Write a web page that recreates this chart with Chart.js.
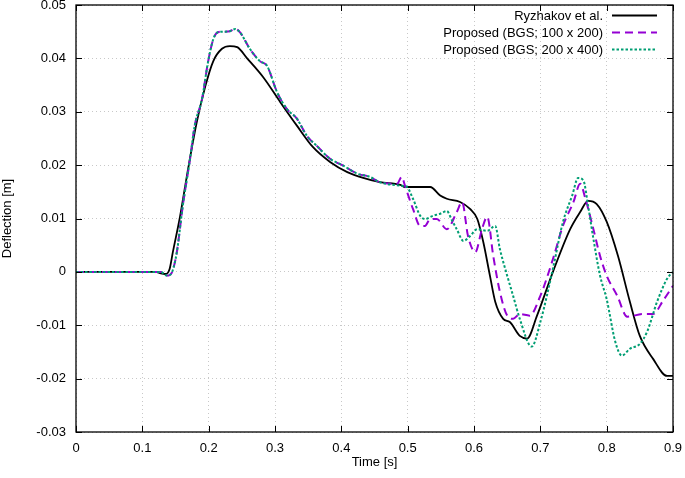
<!DOCTYPE html>
<html>
<head>
<meta charset="utf-8">
<script src="https://cdn.jsdelivr.net/npm/chart.js@4/dist/chart.umd.min.js"></script>
<style>
  html, body { margin: 0; padding: 0; background: #fff; }
  #wrap { width: 685px; height: 478px; }
</style>
</head>
<body>
<div id="wrap"><canvas id="c" width="685" height="478"></canvas></div>
<script>
// ---- Data ----
const seriesLabels = ['Ryzhakov et al.', 'Proposed (BGS; 100 x 200)', 'Proposed (BGS; 200 x 400)'];

const ryzTime = [0, 0.12, 0.128, 0.135, 0.141, 0.146, 0.157, 0.169, 0.182, 0.195, 0.207, 0.22, 0.232, 0.243, 0.258, 0.282, 0.308, 0.333, 0.357, 0.383, 0.409, 0.433, 0.458, 0.489, 0.496, 0.534, 0.549, 0.559, 0.579, 0.594, 0.605, 0.614, 0.624, 0.632, 0.644, 0.654, 0.669, 0.680, 0.695, 0.719, 0.745, 0.760, 0.772, 0.785, 0.800, 0.817, 0.835, 0.850, 0.870, 0.891, 0.9];
const ryzDefl = [0, 0, -0.0003, -0.0004, 0.0005, 0.0037, 0.0105, 0.0193, 0.028, 0.0348, 0.0395, 0.0418, 0.0423, 0.0421, 0.040, 0.0365, 0.0318, 0.0274, 0.0234, 0.0206, 0.0187, 0.0176, 0.0168, 0.0163, 0.0159, 0.0159, 0.0143, 0.0137, 0.0131, 0.0118, 0.0099, 0.0056, -0.0007, -0.0056, -0.0088, -0.0094, -0.012, -0.0125, -0.0082, 0, 0.008, 0.0112, 0.0133, 0.0127, 0.0094, 0.003, -0.0056, -0.012, -0.0163, -0.0195, -0.0195];

const bgs100Time = [0, 0.128, 0.133, 0.137, 0.141, 0.145, 0.152, 0.161, 0.172, 0.179, 0.19, 0.199, 0.207, 0.214, 0.222, 0.232, 0.24, 0.247, 0.262, 0.277, 0.288, 0.303, 0.318, 0.333, 0.348, 0.363, 0.383, 0.403, 0.424, 0.443, 0.458,
  0.484, 0.491, 0.496, 0.508, 0.519, 0.526, 0.534, 0.544, 0.559, 0.574, 0.582, 0.591, 0.602, 0.612, 0.62, 0.629, 0.639, 0.65, 0.659, 0.669, 0.684, 0.7, 0.719, 0.734, 0.75, 0.76, 0.768, 0.78, 0.79, 0.8, 0.816, 0.831, 0.855, 0.87, 0.885, 0.9];
const bgs100Defl = [0, 0, -0.0004, -0.0007, -0.0006, 0, 0.0037, 0.0124, 0.0212, 0.0274, 0.0324, 0.0393, 0.0436, 0.0449, 0.0450, 0.0451, 0.0455, 0.0449, 0.0418, 0.0395, 0.0386, 0.0337, 0.0305, 0.0287, 0.0255, 0.0236, 0.0212, 0.0199, 0.0184, 0.0178, 0.0168,
  0.0165, 0.0178, 0.0161, 0.0118, 0.0086, 0.0086, 0.0099, 0.0099, 0.008, 0.0112, 0.0131, 0.0067, 0.0037, 0.008, 0.0103, 0.003, -0.0037, -0.0082, -0.0088, -0.0079, -0.0082, -0.0045, 0.0024, 0.0086, 0.0131, 0.0165, 0.0137, 0.008, 0.003, -0.0007, -0.0045, -0.0084, -0.0079, -0.0079, -0.0054, -0.0026];

const bgs200Time = [0, 0.128, 0.133, 0.137, 0.141, 0.145, 0.152, 0.161, 0.172, 0.179, 0.19, 0.199, 0.207, 0.214, 0.222, 0.232, 0.24, 0.247, 0.262, 0.277, 0.288, 0.303, 0.318, 0.333, 0.348, 0.363, 0.383, 0.403, 0.424, 0.443, 0.458,
  0.493, 0.499, 0.508, 0.519, 0.526, 0.538, 0.549, 0.559, 0.567, 0.574, 0.584, 0.594, 0.605, 0.62, 0.632, 0.639, 0.65, 0.659, 0.669, 0.687, 0.7, 0.719, 0.734, 0.748, 0.757, 0.765, 0.772, 0.78, 0.79, 0.8, 0.813, 0.823, 0.835, 0.85, 0.861, 0.876, 0.891, 0.9];
const bgs200Defl = [0, 0, -0.0004, -0.0007, -0.0006, 0, 0.0037, 0.0124, 0.0212, 0.0274, 0.0324, 0.0393, 0.0436, 0.0449, 0.0450, 0.0451, 0.0455, 0.0449, 0.0418, 0.0395, 0.0386, 0.0337, 0.0305, 0.0287, 0.0255, 0.0236, 0.0212, 0.0199, 0.0184, 0.0178, 0.0168,
  0.0161, 0.0159, 0.0137, 0.0105, 0.0099, 0.0105, 0.0109, 0.0114, 0.0096, 0.008, 0.0058, 0.0067, 0.008, 0.0077, 0.0086, 0.0043, -0.0007, -0.0045, -0.0088, -0.014, -0.0094, 0.0006, 0.0093, 0.0143, 0.0176, 0.0171, 0.0124, 0.0062, -0.0007, -0.0051, -0.0131, -0.0157, -0.0144, -0.0135, -0.0112, -0.0056, -0.0013, 0];

const xTickValues = [0, 0.1, 0.2, 0.3, 0.4, 0.5, 0.6, 0.7, 0.8, 0.9];
const yTickValues = [-0.03, -0.02, -0.01, 0, 0.01, 0.02, 0.03, 0.04, 0.05];

function pts(t, v) { return t.map((x, i) => ({ x: x, y: v[i] })); }

const FONT = 'Liberation Sans, Arial, Helvetica, sans-serif';

const frameAndLegend = {
  id: 'frameAndLegend',
  afterDatasetsDraw(chart) {
    const { ctx, chartArea: a, scales } = chart;
    ctx.save();
    ctx.strokeStyle = '#000';
    ctx.lineWidth = 1;
    ctx.beginPath();
    const L = 6;
    xTickValues.forEach(v => {
      const px = Math.round(scales.x.getPixelForValue(v)) + 0.5;
      ctx.moveTo(px, a.bottom); ctx.lineTo(px, a.bottom - L);
      ctx.moveTo(px, a.top); ctx.lineTo(px, a.top + L);
    });
    yTickValues.forEach(v => {
      const py = Math.round(scales.y.getPixelForValue(v)) + 0.5;
      ctx.moveTo(a.left, py); ctx.lineTo(a.left + L, py);
      ctx.moveTo(a.right, py); ctx.lineTo(a.right - L, py);
    });
    ctx.stroke();
    ctx.lineWidth = 1.3;
    ctx.strokeRect(a.left, a.top, a.right - a.left, a.bottom - a.top);

    ctx.font = '13px ' + FONT;
    ctx.textAlign = 'right';
    ctx.textBaseline = 'middle';
    const rows = [15.5, 32.5, 49.5];
    chart.data.datasets.forEach((ds, i) => {
      const y = rows[i];
      ctx.fillStyle = '#000';
      ctx.fillText(ds.label, 603, y + 1);
      ctx.strokeStyle = ds.borderColor;
      ctx.lineWidth = ds.borderWidth;
      ctx.setLineDash(ds.borderDash || []);
      ctx.beginPath();
      ctx.moveTo(612, y); ctx.lineTo(657, y);
      ctx.stroke();
      ctx.setLineDash([]);
    });
    ctx.restore();
  }
};

new Chart(document.getElementById('c'), {
  type: 'line',
  data: {
    datasets: [
      { label: seriesLabels[0], data: pts(ryzTime, ryzDefl), borderColor: '#000000', borderWidth: 1.8, order: 3 },
      { label: seriesLabels[1], data: pts(bgs100Time, bgs100Defl), borderColor: '#9400D3', borderWidth: 2, borderDash: [8, 5], order: 2 },
      { label: seriesLabels[2], data: pts(bgs200Time, bgs200Defl), borderColor: '#009E73', borderWidth: 2, borderDash: [2.5, 2], order: 1 }
    ]
  },
  options: {
    responsive: false,
    animation: false,
    devicePixelRatio: 1,
    layout: { padding: { top: 5, right: 12, left: 0, bottom: 0 } },
    elements: {
      point: { radius: 0 },
      line: { cubicInterpolationMode: 'monotone', fill: false }
    },
    plugins: { legend: { display: false }, tooltip: { enabled: false } },
    scales: {
      x: {
        type: 'linear', min: 0, max: 0.9,
        afterBuildTicks: s => { s.ticks = xTickValues.map(v => ({ value: v })); },
        afterFit: s => { s.height = 46; s.paddingLeft = 0; s.paddingRight = 0; },
        ticks: {
          color: '#000', padding: 9, maxRotation: 0,
          font: { family: FONT, size: 13 },
          callback: v => String(Number(v.toFixed(2)))
        },
        grid: { color: '#c8c8c8', lineWidth: 1, drawTicks: false },
        border: { display: false, dash: [1, 3] },
        title: { display: true, text: 'Time [s]', color: '#000', font: { family: FONT, size: 13 }, padding: { top: 0, bottom: 8 } }
      },
      y: {
        type: 'linear', min: -0.03, max: 0.05,
        afterBuildTicks: s => { s.ticks = yTickValues.map(v => ({ value: v })); },
        afterFit: s => { s.width = 76; s.paddingTop = 0; s.paddingBottom = 0; },
        ticks: {
          color: '#000', padding: 10,
          font: { family: FONT, size: 13 },
          callback: v => String(Number(v.toFixed(2)))
        },
        grid: { color: '#c8c8c8', lineWidth: 1, drawTicks: false },
        border: { display: false, dash: [1, 3] },
        title: { display: true, text: 'Deflection [m]', color: '#000', font: { family: FONT, size: 13 }, padding: { top: 0, bottom: 0 } }
      }
    }
  },
  plugins: [frameAndLegend]
});
</script>
</body>
</html>
